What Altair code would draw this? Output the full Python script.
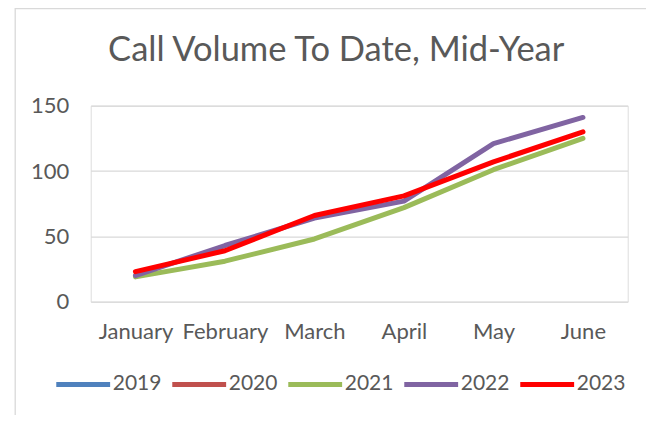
import altair as alt
import pandas as pd

months = ["January", "February", "March", "April", "May", "June"]
years = ["2019", "2020", "2021", "2022", "2023"]
v2019 = []
v2020 = []
v2021 = [19, 31, 48, 72, 101, 125]
v2022 = [20, 43, 64, 77, 121, 141]
v2023 = [23, 39, 66, 81, 107, 130]
colors = ["#4F81BD", "#C0504D", "#9BBB59", "#8064A2", "#FF0000"]
widths = [5, 5, 5, 5, 7]

rows = []
for yr, vals in zip(years, [v2019, v2020, v2021, v2022, v2023]):
    for m, v in zip(months, vals):
        rows.append({"month": m, "year": yr, "value": v})
df = pd.DataFrame(rows)

FONT = "Lato"
GRAY = "#595959"
GRID = "#D9D9D9"

frame = alt.Chart(pd.DataFrame({"a": [0]})).mark_rect(
    fill="white", fillOpacity=0, stroke=GRID, strokeWidth=1.3
).encode(
    x=alt.value(-75.5), x2=alt.value(800), y=alt.value(-97), y2=alt.value(600)
)

lines = alt.Chart(df).mark_line(strokeCap="round", strokeJoin="round").encode(
    x=alt.X("month:N", sort=months, scale=alt.Scale(domain=months),
            axis=alt.Axis(title=None, labelAngle=0, ticks=False, domain=False,
                          labelFontSize=22, labelFont=FONT, labelColor=GRAY,
                          labelPadding=20, grid=False)),
    y=alt.Y("value:Q", scale=alt.Scale(domain=[0, 150], nice=False),
            axis=alt.Axis(title=None, values=[0, 50, 100, 150], grid=True,
                          gridColor=GRID, gridWidth=1.3, domain=False, ticks=False,
                          labelFontSize=22, labelFont=FONT, labelColor=GRAY,
                          labelPadding=22)),
    color=alt.Color("year:N", scale=alt.Scale(domain=years, range=colors),
                    legend=alt.Legend(title=None, orient="none", legendX=-37, legendY=249,
                                      direction="horizontal", columns=5,
                                      symbolType="stroke", symbolSize=2900,
                                      symbolStrokeWidth=6, labelFontSize=21,
                                      labelFont=FONT, labelColor=GRAY,
                                      columnPadding=0, labelOffset=0)),
    strokeWidth=alt.StrokeWidth("year:N", scale=alt.Scale(domain=years, range=widths), legend=None),
)

chart = alt.layer(frame, lines).properties(
    width=537,
    height=196,
    autosize=alt.AutoSizeParams(type="none"),
    padding={"left": 82.7, "top": 97.7, "right": 18.3, "bottom": 113.3},
    title=alt.TitleParams("Call Volume To Date, Mid-Year", font=FONT, fontSize=34.5,
                          fontWeight="normal", color=GRAY, anchor="middle", dx=-23,
                          baseline="alphabetic", offset=-87),
).configure_view(stroke=None).configure(background="white")

chart.save("out.html", embed_options={"renderer": "svg", "actions": False})
